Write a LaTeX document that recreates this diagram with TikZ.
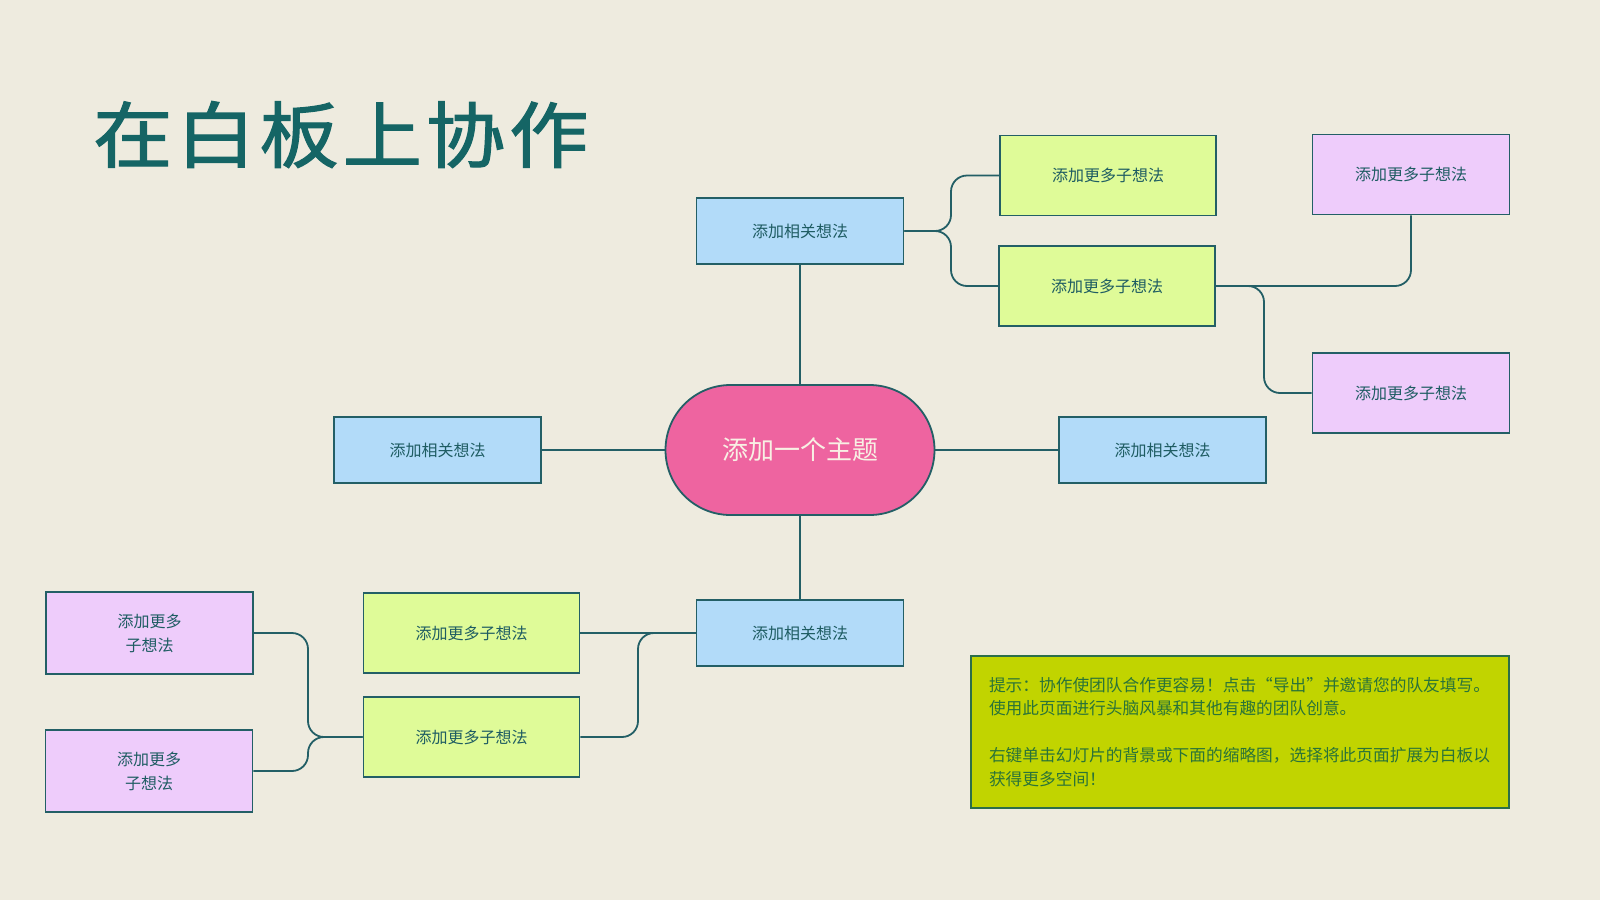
\documentclass[tikz,border=0pt]{standalone}
\usepackage{fontspec}
\setmainfont{Noto Sans CJK SC}
\newfontfamily\cjk{Noto Sans CJK SC}
\newfontfamily\cjktitle[FakeBold=1.6,FakeStretch=1.1]{Noto Sans CJK SC}
\definecolor{bg}{HTML}{EEEBDF}
\definecolor{blueF}{HTML}{B2DBF9}
\definecolor{greenF}{HTML}{DFFB98}
\definecolor{purpF}{HTML}{EECCFB}
\definecolor{pinkF}{HTML}{EE64A0}
\definecolor{edge}{HTML}{235F66}
\definecolor{titleC}{HTML}{156565}
\definecolor{txt}{HTML}{1E5C62}
\definecolor{noteF}{HTML}{C1D400}
\definecolor{noteE}{HTML}{2B6E4A}
\definecolor{noteT}{HTML}{2A7338}
\definecolor{pinkT}{HTML}{F8F0E4}
\tikzset{
  box/.style={draw=edge, line width=1.8pt, text=txt, inner sep=0pt,
    font=\cjk\fontsize{16}{24}\selectfont, align=center},
  blue/.style={box, fill=blueF, minimum width=207pt, minimum height=66pt},
  green/.style={box, fill=greenF, minimum width=216pt, minimum height=80pt},
  purp/.style={box, fill=purpF, minimum width=197pt, minimum height=80pt},
  purpL/.style={box, fill=purpF, minimum width=207pt, minimum height=82pt},
  conn/.style={draw=edge, line width=1.8pt, rounded corners=16pt},
}
\begin{document}
\begin{tikzpicture}[x=1pt,y=-1pt]
\useasboundingbox (0,0) rectangle (1600,900);
\fill[bg] (0,0) rectangle (1600,900);

\node[anchor=base west, inner sep=0pt, text=titleC,
  font=\cjktitle\fontsize{72}{72}\selectfont] (title) at (93,162)
  {在\hspace{4pt}白\hspace{4pt}板\hspace{4pt}上\hspace{4pt}协\hspace{4pt}作};

\node[draw=edge, line width=1.8pt, fill=pinkF, rounded corners=65pt,
  minimum width=269pt, minimum height=130pt, text=pinkT,
  font=\cjk\fontsize{26}{30}\selectfont] (main) at (800,450) {添加一个主题};

\node[blue] (b1) at (800,231) {添加相关想法};
\node[blue] (b2) at (437.5,450) {添加相关想法};
\node[blue] (b3) at (1162.5,450) {添加相关想法};
\node[blue] (b4) at (800,633) {添加相关想法};

\node[green] (g1) at (1108,175.5) {添加更多子想法};
\node[green] (g2) at (1107,286) {添加更多子想法};
\node[green] (g3) at (471.5,633) {添加更多子想法};
\node[green] (g4) at (471.5,737) {添加更多子想法};

\node[purp] (p1) at (1411,174.5) {添加更多子想法};
\node[purp] (p2) at (1411,393) {添加更多子想法};
\node[purpL] (p3) at (149.5,633) {添加更多\\子想法};
\node[purpL] (p4) at (149,771) {添加更多\\子想法};

\node[draw=noteE, line width=1.8pt, fill=noteF, text=noteT,
  minimum width=538pt, minimum height=152pt, inner xsep=18pt, inner ysep=0pt,
  text width=502pt, align=left,
  font=\cjk\fontsize{16.7}{23.5}\selectfont] (note) at (1240,732)
  {提示：协作使团队合作更容易！点击“导出”并邀请您的队友填写。\\
   使用此页面进行头脑风暴和其他有趣的团队创意。\\[23.5pt]
   右键单击幻灯片的背景或下面的缩略图，选择将此页面扩展为白板以\\
   获得更多空间！};

% connectors
\draw[conn] (main.north) -- (b1.south);
\draw[conn] (main.south) -- (b4.north);
\draw[conn] (main.west) -- (b2.east);
\draw[conn] (main.east) -- (b3.west);

\coordinate (j1) at (951,231);
\draw[conn] (b1.east) -- (j1) |- (g1.west);
\draw[conn] (b1.east) -- (j1) |- (g2.west);

\draw[conn] (g2.east) -| (p1.south);
\coordinate (j2) at (1264,286);
\draw[conn] (g2.east) -- (j2) |- (p2.west);

\draw[conn] (b4.west) -- (g3.east);
\coordinate (j3) at (638,633);
\draw[conn] (b4.west) -- (j3) |- (g4.east);

\coordinate (j4) at (308,737);
\draw[conn] (g4.west) -- (j4) |- (p3.east);
\draw[conn] (g4.west) -- (j4) |- (p4.east);
\end{tikzpicture}
\end{document}
